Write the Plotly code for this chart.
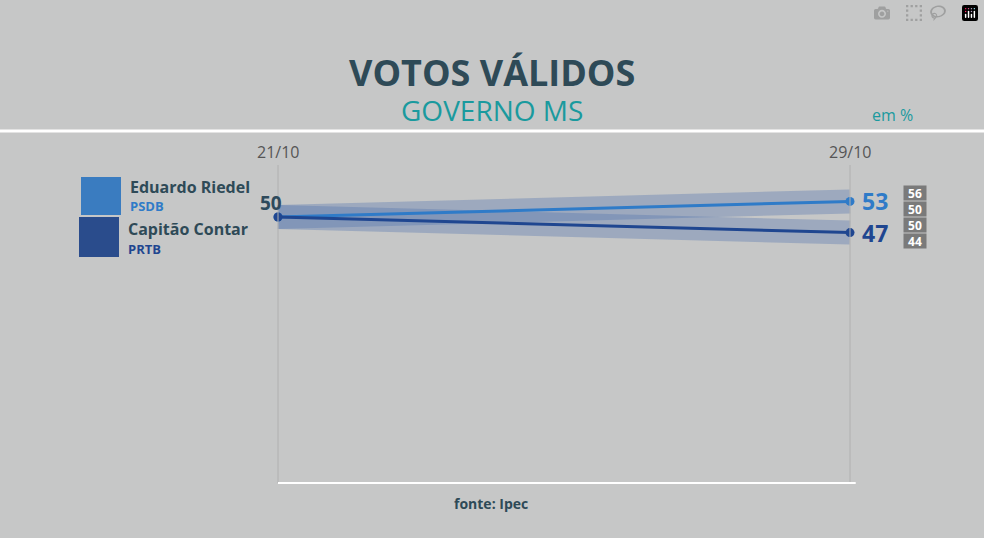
import plotly.graph_objects as go

dates = ["21/10", "29/10"]
candidates = ["Eduardo Riedel", "Capitão Contar"]
parties = ["PSDB", "PRTB"]
values = {"Eduardo Riedel": [50, 53], "Capitão Contar": [50, 47]}
margins_hi = [56, 50]
margins_lo = [50, 44]
colors = ["#2f7bc8", "#1f4690"]

xs = [0, 1]
fig = go.Figure()
for i, c in enumerate(candidates):
    fig.add_trace(go.Scatter(x=xs, y=values[c], mode="lines",
                             line=dict(color="rgba(80,115,175,0.35)", width=24), hoverinfo="skip"))
for i, c in enumerate(candidates):
    fig.add_trace(go.Scatter(x=xs, y=values[c], mode="lines+markers",
                             line=dict(color=colors[i], width=3),
                             marker=dict(size=9, color=colors[i]), hoverinfo="skip"))

ann = []
ann.append(dict(x=0, y=values[candidates[0]][0], text="<b>50</b>", xanchor="right", xshift=6, yshift=14,
                font=dict(size=19, color="#2e4a5c", family="Open Sans"), showarrow=False))
for i, c in enumerate(candidates):
    ann.append(dict(x=1, y=values[c][1], text=f"<b>{values[c][1]}</b>", xanchor="left", xshift=10,
                    font=dict(size=23, color=colors[i], family="Open Sans"), showarrow=False))
    for j, v in enumerate([margins_hi[i], margins_lo[i]]):
        ann.append(dict(x=1, y=values[c][1], text=f"<b>{v}</b>", xanchor="center", xshift=65,
                        yshift=(8 - 16 * j), bgcolor="#7a7a7a", font=dict(size=12, color="white", family="Open Sans"),
                        showarrow=False, borderpad=0, width=22, height=14))
for k in range(2):
    ann.append(dict(x=xs[k], y=62.5, text=dates[k], showarrow=False, yanchor="middle",
                    font=dict(size=16, color="#555", family="Open Sans")))

fig.update_layout(
    width=984, height=538, margin=dict(l=0, r=0, t=0, b=0),
    paper_bgcolor="#c6c7c7", plot_bgcolor="rgba(0,0,0,0)", showlegend=False,
    xaxis=dict(range=[-278/572, 706/572], visible=False, fixedrange=True),
    yaxis=dict(range=[50 - 321/5.2, 50 + 217/5.2], visible=False, fixedrange=True),
    annotations=ann,
    shapes=[
        dict(type="line", xref="paper", yref="paper", x0=0, x1=1, y0=1-131/538, y1=1-131/538,
             line=dict(color="white", width=3)),
        dict(type="line", x0=0, x1=0, yref="paper", y0=1-165/538, y1=1-483/538, line=dict(color="#b0b0b0", width=1)),
        dict(type="line", x0=1, x1=1, yref="paper", y0=1-165/538, y1=1-483/538, line=dict(color="#b0b0b0", width=1)),
        dict(type="line", x0=0, x1=1.01, yref="paper", y0=1-483/538, y1=1-483/538, line=dict(color="white", width=2)),
        dict(type="rect", xref="paper", yref="paper", x0=82/984, x1=120/984, y0=1-178/538, y1=1-214/538,
             fillcolor="#3a7cc0", line=dict(color="#3a7cc0")),
        dict(type="rect", xref="paper", yref="paper", x0=80/984, x1=118/984, y0=1-218/538, y1=1-256/538,
             fillcolor="#2a4c8c", line=dict(color="#2a4c8c")),
    ],
)
more = [
    dict(x=0.5, y=1-72/538, text="<b>VOTOS VÁLIDOS</b>", font=dict(size=36, color="#2e4a57", family="Open Sans")),
    dict(x=0.5, y=1-110/538, text="GOVERNO MS", font=dict(size=28, color="#1a9a9e", family="Open Sans")),
    dict(x=915/984, y=1-115/538, text="em %", font=dict(size=16, color="#1a9a9e", family="Open Sans")),
    dict(x=491/984, y=1-503/538, text="<b>fonte: Ipec</b>", font=dict(size=14, color="#2e4a57", family="Open Sans")),
    dict(x=128/984, y=1-187/538, text="<b>Eduardo Riedel</b>", xanchor="left", font=dict(size=16, color="#2e4a57", family="Open Sans")),
    dict(x=128/984, y=1-206/538, text="<b>PSDB</b>", xanchor="left", font=dict(size=13, color="#2f7bc8", family="Open Sans")),
    dict(x=126/984, y=1-229/538, text="<b>Capitão Contar</b>", xanchor="left", font=dict(size=16, color="#2e4a57", family="Open Sans")),
    dict(x=126/984, y=1-249/538, text="<b>PRTB</b>", xanchor="left", font=dict(size=13, color="#1f4690", family="Open Sans")),
]
for a in more:
    fig.add_annotation(xref="paper", yref="paper", showarrow=False, yanchor="middle", **a)
fig.write_html("out.html")
with open("out.html", encoding="utf-8") as f:
    html = f.read()
html = html.replace("<head>", "<head><style>html,body{margin:0;padding:0;overflow:hidden;background:#c6c7c7}</style>", 1)
with open("out.html", "w", encoding="utf-8") as f:
    f.write(html)
